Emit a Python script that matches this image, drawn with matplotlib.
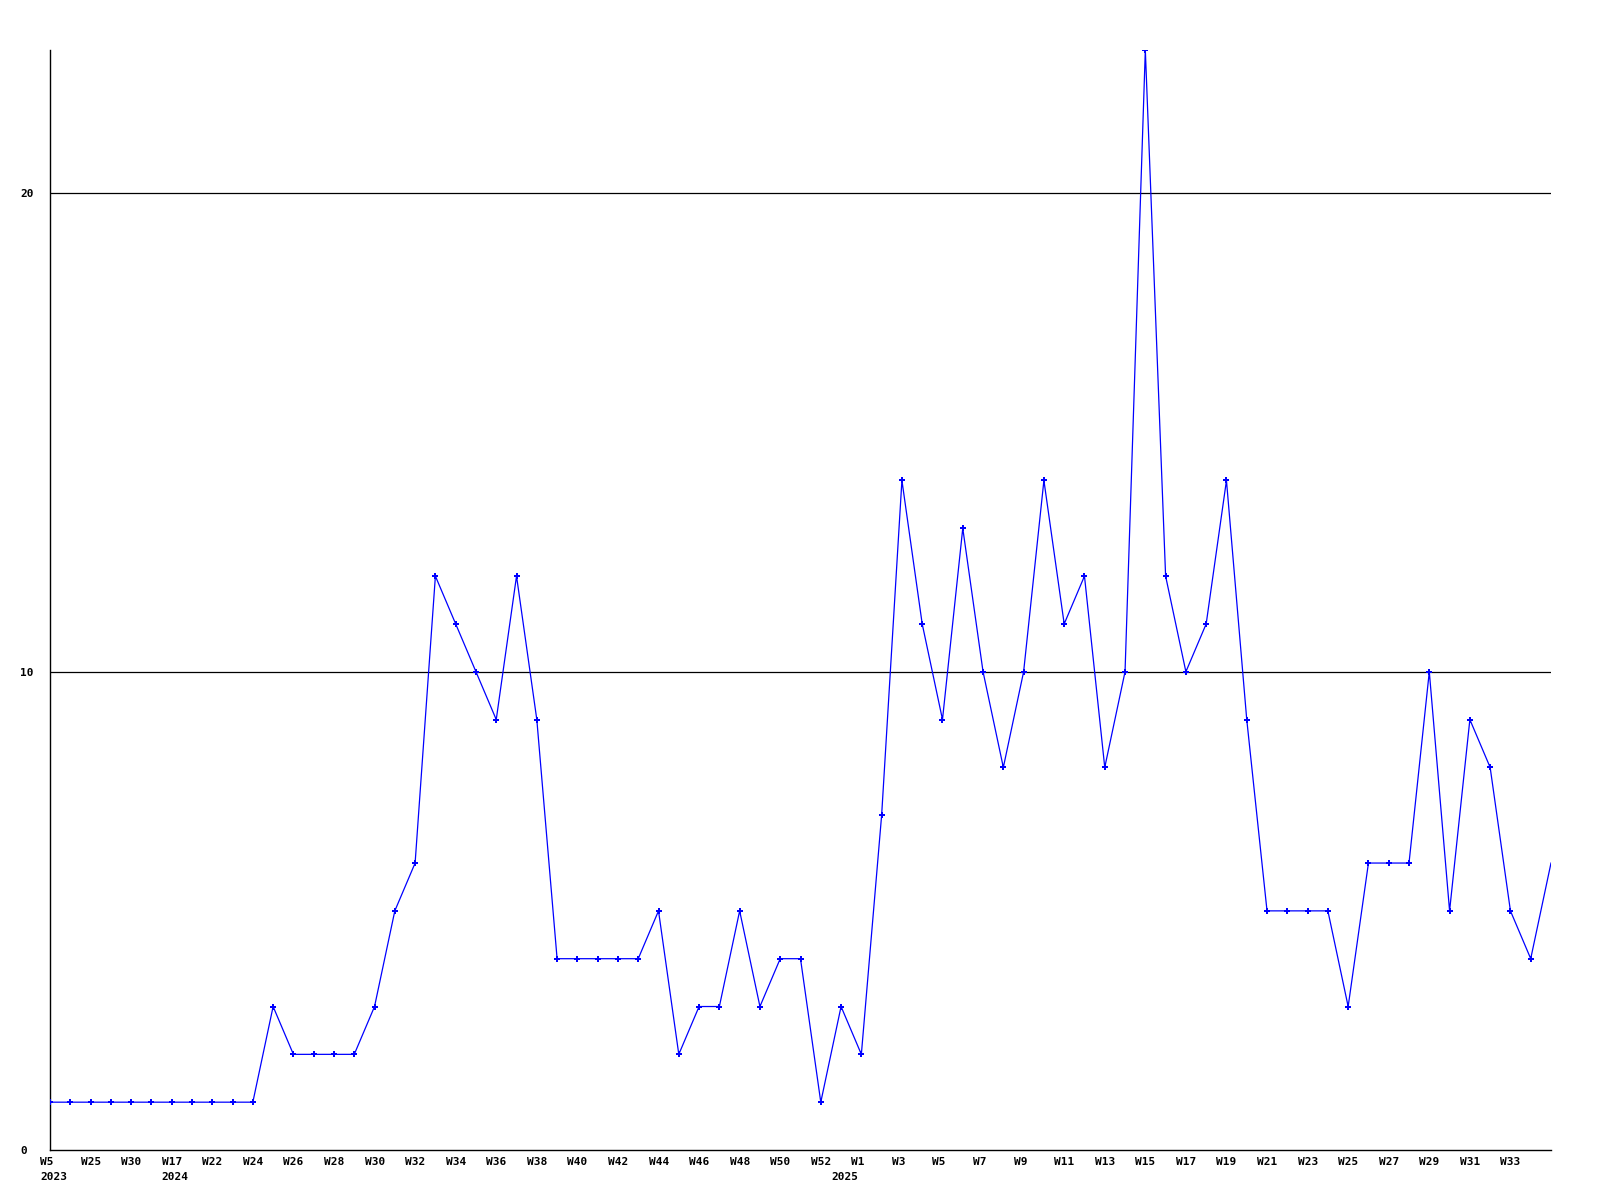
import matplotlib
matplotlib.use("Agg")
import matplotlib.pyplot as plt
from matplotlib.transforms import ScaledTranslation

# ---- data ----
weeks = (["W5", "W20", "W25", "W27", "W30", "W45",
          "W17", "W19", "W22", "W23"]
         + [f"W{w}" for w in range(24, 53)]
         + ["W0"]
         + [f"W{w}" for w in range(1, 36)])
values = [1, 1, 1, 1, 1, 1, 1, 1, 1, 1,
          1, 3, 2, 2, 2, 2, 3, 5, 6, 12,
          11, 10, 9, 12, 9, 4, 4, 4, 4, 4,
          5, 2, 3, 3, 5, 3, 4, 4, 1, 3,
          2, 7, 14, 11, 9, 13, 10, 8, 10, 14,
          11, 12, 8, 10, 23, 12, 10, 11, 14, 9,
          5, 5, 5, 5, 3, 6, 6, 6, 10, 5,
          9, 8, 5, 4, 6]
year_labels = ["2023", "2024", "2025"]
year_positions = [0, 6, 39]
y_ticks = [0, 10, 20]

# ---- figure ----
fig = plt.figure(figsize=(16, 12), dpi=100)
ax = fig.add_axes([50 / 1600, 50 / 1200, 1501 / 1600, 1100 / 1200])

x = list(range(len(values)))
ax.set_xlim(0, len(values) - 1)
ax.set_ylim(0, 23)

for yv in y_ticks[1:]:
    ax.axhline(yv, color="black", linewidth=0.9, zorder=1)

ax.plot(x, values, color="#0000ff", linewidth=0.9, marker="P",
        markersize=4, markeredgewidth=0, markevery=slice(0, len(values) - 1),
        zorder=3)

for s in ["top", "right"]:
    ax.spines[s].set_visible(False)
for s in ["left", "bottom"]:
    ax.spines[s].set_color("black")
    ax.spines[s].set_linewidth(1.0)

font = dict(family="DejaVu Sans Mono", weight="bold", size=8)

ax.set_yticks(y_ticks)
ax.set_yticklabels([str(v) for v in y_ticks], fontdict=font)
ax.tick_params(axis="y", length=0, pad=30 * 0.72)
for lab in ax.get_yticklabels():
    lab.set_horizontalalignment("left")

tick_idx = list(range(0, len(values) - 1, 2))
ax.set_xticks(tick_idx)
ax.set_xticklabels([weeks[i] for i in tick_idx], fontdict=font)
ax.tick_params(axis="x", length=0, pad=7 * 0.72)
off = ScaledTranslation(-10 / 100, 0, fig.dpi_scale_trans)
for lab in ax.get_xticklabels():
    lab.set_horizontalalignment("left")
    lab.set_transform(lab.get_transform() + off)

for lbl, pos in zip(year_labels, year_positions):
    ax.annotate(lbl, xy=(pos, 0), xycoords=("data", "axes fraction"),
                xytext=(-10 * 0.72, -22 * 0.72), textcoords="offset points",
                ha="left", va="top", **font)

fig.savefig("out.png", dpi=100)
